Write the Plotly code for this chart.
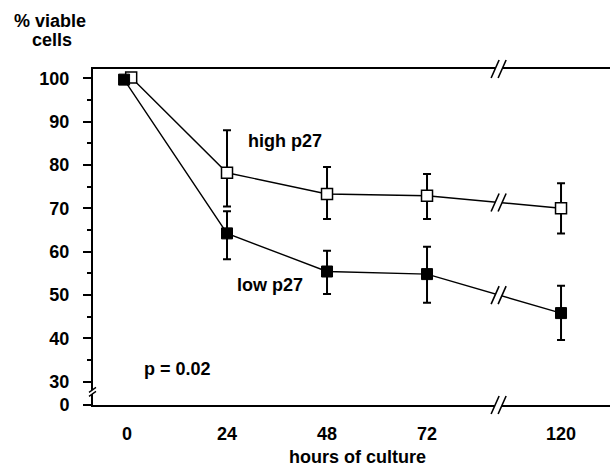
import numpy as np
import plotly.graph_objects as go

# ---------------- data ----------------
hours = [0, 24, 48, 72, 120]
hour_labels = ["0", "24", "48", "72", "120"]

high_p27 = [100.2, 78.2, 73.3, 72.9, 70.0]
high_err_plus = [0, 9.8, 6.2, 5.0, 5.8]
high_err_minus = [0, 7.8, 5.8, 5.4, 5.8]

low_p27 = [99.7, 64.2, 55.4, 54.8, 45.8]
low_err_plus = [0, 5.1, 4.8, 6.3, 6.3]
low_err_minus = [0, 6.0, 5.2, 6.6, 6.2]

y_tick_values = [0, 30, 40, 50, 60, 70, 80, 90, 100]
y_minor_values = [35, 45, 55, 65, 75, 85, 95]

# ---------------- broken-axis transforms ----------------
X_BREAK_AT = 72          # hours after which the x-axis is compressed
X_COMPRESS = 0.67        # compression of the 72-120 h segment
X_BREAK_MARK = 89.3      # where the // marks are drawn (axis units)
Y_ZERO_POS = 24.6        # where "0" sits on the broken y-axis
FIRST_OFFSET = {"high": 1.0, "low": -0.7}   # tiny shift so the 0 h points don't hide each other


def xpos(h):
    return h if h <= X_BREAK_AT else X_BREAK_AT + (h - X_BREAK_AT) * X_COMPRESS


def ypos(v):
    return Y_ZERO_POS if v == 0 else v


def xs_for(series):
    return [xpos(h) + (FIRST_OFFSET[series] if h == 0 else 0) for h in hours]


FONT = "Liberation Sans, Arial, Helvetica, sans-serif"

fig = go.Figure()

fig.add_trace(go.Scatter(
    x=xs_for("high"), y=high_p27, mode="lines+markers", name="high p27",
    line=dict(color="black", width=1.4),
    marker=dict(symbol="square", size=11, color="white", line=dict(color="black", width=1.5)),
    error_y=dict(type="data", symmetric=False, array=high_err_plus, arrayminus=high_err_minus,
                 color="black", thickness=2, width=4),
    showlegend=False,
))
fig.add_trace(go.Scatter(
    x=xs_for("low"), y=low_p27, mode="lines+markers", name="low p27",
    line=dict(color="black", width=1.4),
    marker=dict(symbol="square", size=11, color="black", line=dict(color="black", width=1)),
    error_y=dict(type="data", symmetric=False, array=low_err_plus, arrayminus=low_err_minus,
                 color="black", thickness=2, width=4),
    showlegend=False,
))

# ---------------- break marks ----------------
SLASH_FILL = "M -8 -9 L 0 9 L 7 9 L -1 -9 Z"
SLASH_LINES = "M -8 -9 L 0 9 M -1 -9 L 7 9"


def add_break(xref, yref, xa, ya, fill=SLASH_FILL, lines=SLASH_LINES, lw=1.6):
    common = dict(type="path", xref=xref, yref=yref, xsizemode="pixel", ysizemode="pixel",
                  xanchor=xa, yanchor=ya, layer="above")
    fig.add_shape(path=fill, fillcolor="white", line=dict(width=0), **common)
    fig.add_shape(path=lines, line=dict(color="black", width=lw), **common)


p72, p120 = xpos(72), xpos(120)
add_break("x", "paper", X_BREAK_MARK, 1)
add_break("x", "paper", X_BREAK_MARK, 0)
add_break("x", "y", X_BREAK_MARK, float(np.interp(X_BREAK_MARK, [p72, p120], [high_p27[3], high_p27[4]])))
add_break("x", "y", X_BREAK_MARK, float(np.interp(X_BREAK_MARK, [p72, p120], [low_p27[3], low_p27[4]])))
# small break on the y axis, between 30 and 0
add_break("paper", "y", 0, 27.5,
          fill="M -4 -4 L 3 1 L 3 5 L -4 0 Z",
          lines="M -4 -4 L 3 1 M -4 0 L 3 5", lw=1.3)

# ---------------- text ----------------
tfont = dict(family=FONT, size=18, color="black", weight="bold")
fig.add_annotation(x=37.9, y=85.5, xref="x", yref="y", text="high p27", showarrow=False, font=tfont)
fig.add_annotation(x=34.2, y=52.3, xref="x", yref="y", text="low p27", showarrow=False, font=tfont)
fig.add_annotation(x=12.0, y=32.9, xref="x", yref="y", text="p = 0.02", showarrow=False, font=tfont)

W, H, L, R, T, B = 610, 467, 93, 0, 69, 62
pw, ph = W - L - R, H - T - B


def px(xp):
    return (xp - L) / pw


def py(yp):
    return (H - B - yp) / ph


fig.add_annotation(x=px(50), y=py(21), xref="paper", yref="paper", text="% viable",
                   showarrow=False, font=tfont, xanchor="center", yanchor="middle")
fig.add_annotation(x=px(52), y=py(40), xref="paper", yref="paper", text="cells",
                   showarrow=False, font=tfont, xanchor="center", yanchor="middle")
fig.add_annotation(x=px(357), y=py(457), xref="paper", yref="paper", text="hours of culture",
                   showarrow=False, font=tfont, xanchor="center", yanchor="middle")

X0_PX, X_SCALE = 127, 4.167
fig.update_layout(
    width=W, height=H,
    margin=dict(l=L, r=R, t=T, b=B, pad=0),
    paper_bgcolor="white", plot_bgcolor="white",
    font=dict(family=FONT, color="black"),
    xaxis=dict(
        range=[(L - X0_PX) / X_SCALE, (W - R - X0_PX) / X_SCALE],
        tickmode="array", tickvals=[xpos(h) for h in hours], ticktext=hour_labels,
        ticks="", showline=True, linecolor="black", linewidth=2, mirror=True,
        showgrid=False, zeroline=False,
        tickfont=dict(family=FONT, size=18, color="black", weight="bold"),
        ticklabelstandoff=11,
    ),
    yaxis=dict(
        range=[24.58, 102.15],
        tickmode="array", tickvals=[ypos(v) for v in y_tick_values],
        ticktext=[str(v) for v in y_tick_values],
        ticks="outside", ticklen=8, tickwidth=2, tickcolor="black",
        minor=dict(tickmode="array", tickvals=y_minor_values, ticks="outside",
                   ticklen=4, tickwidth=2, tickcolor="black"),
        showline=True, linecolor="black", linewidth=2,
        showgrid=False, zeroline=False,
        tickfont=dict(family=FONT, size=18, color="black", weight="bold"),
        ticklabelstandoff=10,
    ),
)

fig.write_html("out.html")
